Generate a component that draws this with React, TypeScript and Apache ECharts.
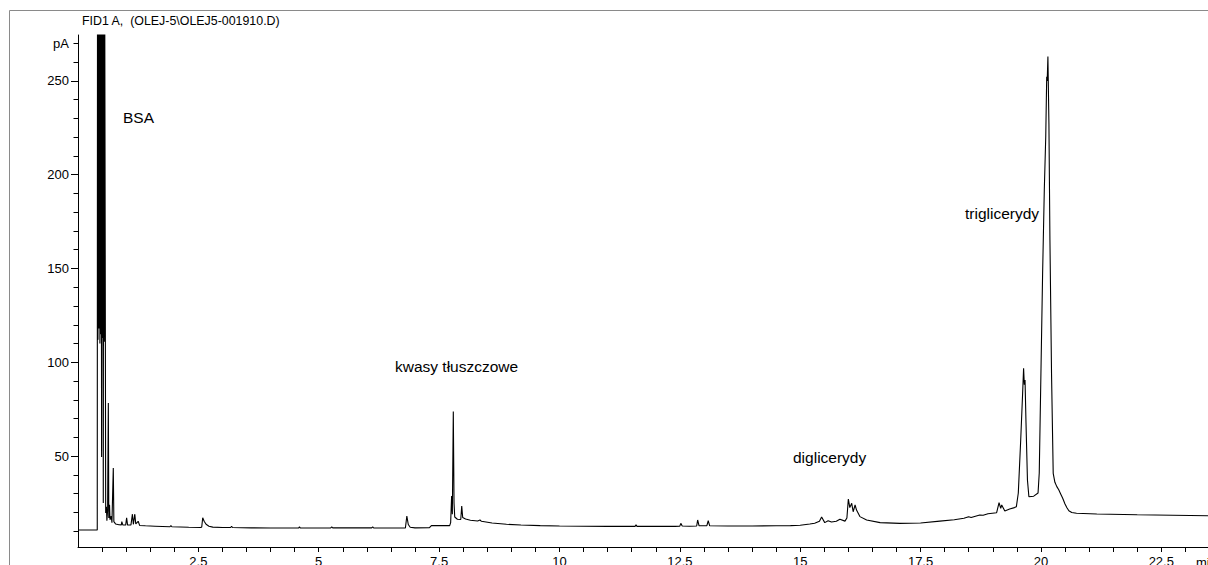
import React, { useEffect, useRef } from "react";
import * as echarts from "echarts";

// Retention time (min) / detector signal (pA) pairs, grouped by region of the run.
const solventAndBsa: [number, number][] = [
  [0, 10.6], [0.4, 10.6], [0.405, 300], [0.415, 112], [0.425, 300], [0.435, 118],
  [0.445, 300], [0.455, 110], [0.465, 300], [0.475, 115], [0.48, 300], [0.49, 49.5],
  [0.5, 300], [0.51, 113], [0.515, 300], [0.525, 25], [0.535, 300], [0.545, 111],
  [0.555, 300], [0.575, 19.6], [0.59, 23], [0.6, 15.5], [0.615, 21], [0.63, 78.3],
  [0.64, 17], [0.655, 24], [0.665, 16], [0.69, 18], [0.705, 14.5], [0.733, 43.6],
  [0.745, 15], [0.78, 13.8], [0.85, 13.4], [0.9, 13.3], [0.91, 15], [0.93, 13.3],
  [0.99, 13.2], [1.01, 17], [1.03, 13.2], [1.1, 13.3], [1.13, 19], [1.15, 13.6],
  [1.18, 19], [1.2, 13.8], [1.25, 15.2], [1.28, 13], [1.4, 12.8],
];

const earlyBaseline: [number, number][] = [
  [1.6, 12.6], [1.91, 12.3], [1.93, 12.9], [1.95, 12.3], [2.3, 12.0], [2.55, 11.9],
  [2.57, 12.2], [2.59, 17.1], [2.62, 15.2], [2.66, 13.6], [2.72, 12.6], [2.8, 12.1],
  [3.0, 11.9], [3.17, 11.9], [3.19, 12.5], [3.21, 11.9], [3.6, 11.7], [4.0, 11.6],
  [4.58, 11.6], [4.6, 12.2], [4.62, 11.6], [5.0, 11.6], [5.25, 11.7], [5.27, 12.2],
  [5.29, 11.7], [5.7, 11.7], [6.1, 11.7], [6.12, 12.2], [6.14, 11.7], [6.5, 11.6],
  [6.8, 11.6], [6.83, 18], [6.86, 13.5], [6.9, 12.0], [7.0, 11.7], [7.3, 11.8],
  [7.34, 12.9], [7.6, 13.0], [7.72, 12.9],
];

const fattyAcids: [number, number][] = [
  [7.74, 14.5], [7.76, 28.7], [7.775, 19], [7.795, 73.7], [7.81, 25], [7.825, 17.5],
  [7.88, 16.3], [7.95, 16.2], [7.97, 23.4], [7.99, 17.2], [8.05, 16.4], [8.15, 15.8],
  [8.3, 15.4], [8.35, 15.9], [8.38, 15.2], [8.6, 14.3], [8.9, 13.6], [9.2, 13.2],
  [9.6, 12.9],
];

const middleBaseline: [number, number][] = [
  [10.0, 12.7], [10.5, 12.6], [11.0, 12.5], [11.57, 12.5], [11.59, 13.3], [11.61, 12.5],
  [12.0, 12.5], [12.4, 12.5], [12.5, 12.6], [12.52, 14.1], [12.55, 12.7], [12.7, 12.6],
  [12.85, 12.7], [12.87, 15.9], [12.9, 12.8], [13.06, 12.8], [13.09, 15.5], [13.12, 12.8],
  [13.5, 12.7], [14.0, 12.7], [14.5, 12.8], [14.8, 12.9], [15.0, 13.1], [15.2, 13.8],
];

const diglycerides: [number, number][] = [
  [15.3, 14.2], [15.4, 15.2], [15.445, 17.5], [15.51, 14.5], [15.58, 15.5], [15.65, 14.8],
  [15.75, 15.2], [15.825, 16.3], [15.93, 15.3], [15.97, 17], [16.0, 27.1], [16.03, 22.5],
  [16.07, 24.8], [16.1, 20.3], [16.14, 23.9], [16.17, 21.2], [16.24, 17.7], [16.38, 15.9],
  [16.66, 14.5], [17.07, 14.1],
];

const risingBaseline: [number, number][] = [
  [17.5, 14.3], [17.9, 15.3], [18.2, 16.0], [18.4, 16.8], [18.5, 17.6], [18.55, 17.2],
  [18.73, 18.6], [18.8, 18.4], [18.9, 19.2], [19.08, 19.8], [19.13, 25.1], [19.165, 22.1],
  [19.185, 23.9], [19.25, 20.7], [19.35, 21.8], [19.45, 22.5], [19.49, 23],
];

const triglycerides: [number, number][] = [
  [19.53, 30.3], [19.58, 58.6], [19.62, 83.6], [19.64, 96.8], [19.655, 88], [19.67, 90.6],
  [19.69, 67.6], [19.72, 37.2], [19.75, 28.3], [19.85, 28.6], [19.94, 30.3], [19.965, 41],
  [20.0, 94.3], [20.035, 147.6], [20.07, 191.9], [20.1, 220.3], [20.12, 252.3], [20.13, 250],
  [20.145, 263], [20.166, 227.3], [20.187, 165.2], [20.22, 94.1], [20.255, 40.8], [20.29, 36],
  [20.33, 33.7], [20.37, 32], [20.41, 29.8], [20.45, 27.6], [20.5, 24.4], [20.54, 22.4],
  [20.58, 20.8], [20.64, 19.9], [20.74, 19.5], [21.16, 19.1], [22.0, 18.7], [23.47, 18.2],
];

const xTicks = [
  0.5, 1, 1.5, 2, 2.5, 3, 3.5, 4, 4.5, 5, 5.5, 6, 6.5, 7, 7.5, 8, 8.5, 9, 9.5, 10,
  10.5, 11, 11.5, 12, 12.5, 13, 13.5, 14, 14.5, 15, 15.5, 16, 16.5, 17, 17.5, 18,
  18.5, 19, 19.5, 20, 20.5, 21, 21.5, 22, 22.5, 23,
];
const xLabels = [2.5, 5, 7.5, 10, 12.5, 15, 17.5, 20, 22.5];
const yMajorTicks = [50, 100, 150, 200, 250];
const yLabels = [50, 100, 150, 200, 250, 270];
const yMinorTicks = [
  10, 20, 30, 40, 60, 70, 80, 90, 110, 120, 130, 140, 160, 170, 180, 190,
  210, 220, 230, 240, 260, 270,
];

const peakNames = ["BSA", "kwasy tłuszczowe", "diglicerydy", "triglicerydy"];
const signalTitle = "FID1 A,  (OLEJ-5\\OLEJ5-001910.D)";

const FONT = "'Liberation Sans', Arial, Helvetica, sans-serif";

export default function App() {
  const ref = useRef<HTMLDivElement>(null);

  useEffect(() => {
    document.body.style.margin = "0";
    if (!ref.current) return;
    const chart = echarts.init(ref.current, undefined, { renderer: "svg" });

    const trace = [
      ...solventAndBsa,
      ...earlyBaseline,
      ...fattyAcids,
      ...middleBaseline,
      ...diglycerides,
      ...risingBaseline,
      ...triglycerides,
    ];

    const yMin = 1.5;
    const yMax = 274.5;

    const annotation = (text: string, x: number, y: number) => ({
      type: "text",
      x,
      y,
      silent: true,
      style: {
        text,
        fill: "#000",
        fontSize: 15.5,
        fontFamily: FONT,
        verticalAlign: "middle",
      },
    });

    chart.setOption({
      animation: false,
      backgroundColor: "#fff",
      grid: {
        left: 78,
        right: 0,
        top: 35,
        bottom: 18,
        containLabel: false,
        outerBoundsMode: "none",
      },
      xAxis: {
        type: "value",
        min: 0,
        max: 23.47,
        axisLine: { show: true, lineStyle: { color: "#000", width: 1 } },
        axisTick: {
          show: true,
          customValues: xTicks,
          length: 5,
          lineStyle: { color: "#000", width: 1 },
        },
        axisLabel: {
          customValues: xLabels,
          margin: 8,
          color: "#000",
          fontSize: 13,
          fontFamily: FONT,
          formatter: (v: number) => String(v),
        },
        splitLine: { show: false },
      },
      yAxis: [
        {
          type: "value",
          position: "left",
          min: yMin,
          max: yMax,
          axisLine: { show: true, lineStyle: { color: "#000", width: 1 } },
          axisTick: {
            show: true,
            customValues: yMajorTicks,
            length: 7,
            lineStyle: { color: "#000", width: 1 },
          },
          axisLabel: {
            customValues: yLabels,
            margin: 9,
            color: "#000",
            fontSize: 13,
            fontFamily: FONT,
            formatter: (v: number) => (v === 270 ? "pA" : String(v)),
          },
          splitLine: { show: false },
        },
        {
          type: "value",
          position: "left",
          offset: 0,
          min: yMin,
          max: yMax,
          axisLine: { show: false },
          axisTick: {
            show: true,
            customValues: yMinorTicks,
            length: 4.5,
            lineStyle: { color: "#000", width: 1 },
          },
          axisLabel: { show: false },
          splitLine: { show: false },
        },
      ],
      series: [
        {
          type: "line",
          xAxisIndex: 0,
          yAxisIndex: 0,
          data: trace,
          symbol: "none",
          clip: true,
          lineStyle: { color: "#000", width: 1.1 },
        },
      ],
      graphic: [
        {
          type: "rect",
          silent: true,
          shape: { x: 9.5, y: 10.5, width: 1400, height: 800 },
          style: { fill: "none", stroke: "#8a8a8a", lineWidth: 1 },
        },
        {
          type: "text",
          x: 82,
          y: 21,
          silent: true,
          style: {
            text: signalTitle,
            fill: "#000",
            fontSize: 12.4,
            fontFamily: FONT,
            verticalAlign: "middle",
          },
        },
        {
          type: "text",
          x: 1196,
          y: 562,
          silent: true,
          style: {
            text: "min",
            fill: "#000",
            fontSize: 13,
            fontFamily: FONT,
            verticalAlign: "middle",
          },
        },
        annotation(peakNames[0], 123, 117),
        annotation(peakNames[1], 395, 366),
        annotation(peakNames[2], 793, 457),
        annotation(peakNames[3], 965, 213),
      ],
    });

    return () => chart.dispose();
  }, []);

  return <div ref={ref} style={{ width: 1208, height: 565 }} />;
}
